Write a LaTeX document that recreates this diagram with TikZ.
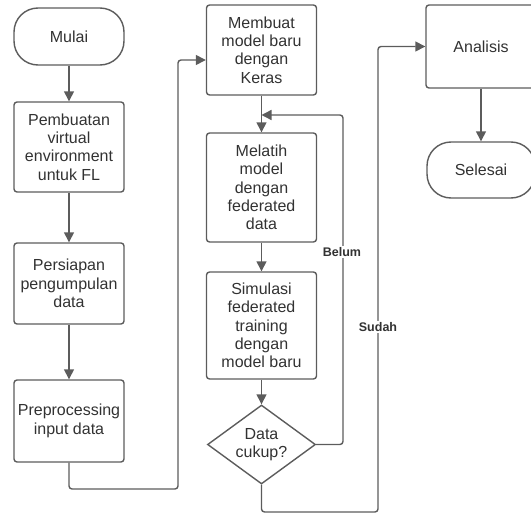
\documentclass[tikz,border=0pt]{standalone}
\usepackage{fontspec}
\setmainfont{Liberation Sans}
\usetikzlibrary{positioning,shapes,arrows.meta}

\definecolor{lineGray}{RGB}{92,92,92}
\definecolor{textGray}{RGB}{50,50,50}

\tikzset{
  base/.style={draw=lineGray, line width=1.4pt, text=textGray, align=center,
    font=\fontsize{16}{18.3}\selectfont, inner sep=0pt},
  proc/.style={base, rectangle, rounded corners=3pt, minimum width=110pt},
  term/.style={base, rectangle, rounded corners=24pt, minimum width=110pt, minimum height=57pt},
  decide/.style={base, diamond, aspect=1.37, minimum width=108pt, minimum height=79pt},
  conn/.style={draw=lineGray, line width=1.4pt, rounded corners=3pt,
    -{Triangle[length=10pt,width=10pt]}},
  lbl/.style={fill=white, text=textGray, font=\fontsize{12.5}{14}\selectfont\bfseries, inner sep=1.5pt}
}

\begin{document}
\begin{tikzpicture}[x=1pt,y=-1pt]
\useasboundingbox (0,0) rectangle (531,514);
\clip (0,0) rectangle (531,514);

% kolom kiri
\node[term] (mulai) at (69,36.5) {Mulai};
\node[proc, minimum height=90pt] (venv) at (69,147) {Pembuatan\\virtual\\environment\\untuk FL};
\node[proc, minimum height=81pt] (persiapan) at (69,283.5) {Persiapan\\pengumpulan\\data};
\node[proc, minimum height=82pt] (preproc) at (69,421) {Preprocessing\\input data};

% kolom tengah
\node[proc, minimum height=90pt] (membuat) at (261.5,50) {Membuat\\model baru\\dengan\\Keras};
\node[proc, minimum height=109pt] (melatih) at (261.5,187.5) {Melatih\\model\\dengan\\federated\\data};
\node[proc, minimum height=107pt] (simulasi) at (261.5,325.5) {Simulasi\\federated\\training\\dengan\\model baru};
\node[decide] (cukup) at (261.5,444.5) {Data\\cukup?};

% kolom kanan
\node[proc, minimum height=83pt] (analisis) at (481,46.5) {Analisis};
\node[term, minimum width=108pt, minimum height=56pt] (selesai) at (481,170) {Selesai};

% titik bantu
\coordinate (leftLow) at (178,489);
\coordinate (join) at (261.5,115);
\coordinate (belumTop) at (343,115);
\coordinate (sudahLow) at (378,512);

% panah
\draw[conn] (mulai) -- (venv);
\draw[conn] (venv) -- (persiapan);
\draw[conn] (persiapan) -- (preproc);
\draw[conn] (preproc.south) |- (leftLow) |- ([yshift=-10pt]membuat.west);
\draw[conn] (membuat) -- (melatih);
\draw[conn] (melatih) -- (simulasi);
\draw[conn] (simulasi) -- (cukup);
\draw[conn] (cukup.east) -| (belumTop) -- (join);
\draw[conn] (cukup.south) |- (sudahLow) |- (analisis.west);
\draw[conn] (analisis) -- (selesai);

% label
\node[lbl] (belum) at (342,252) {Belum};
\node[lbl] (sudah) at (378,327) {Sudah};
\end{tikzpicture}
\end{document}
